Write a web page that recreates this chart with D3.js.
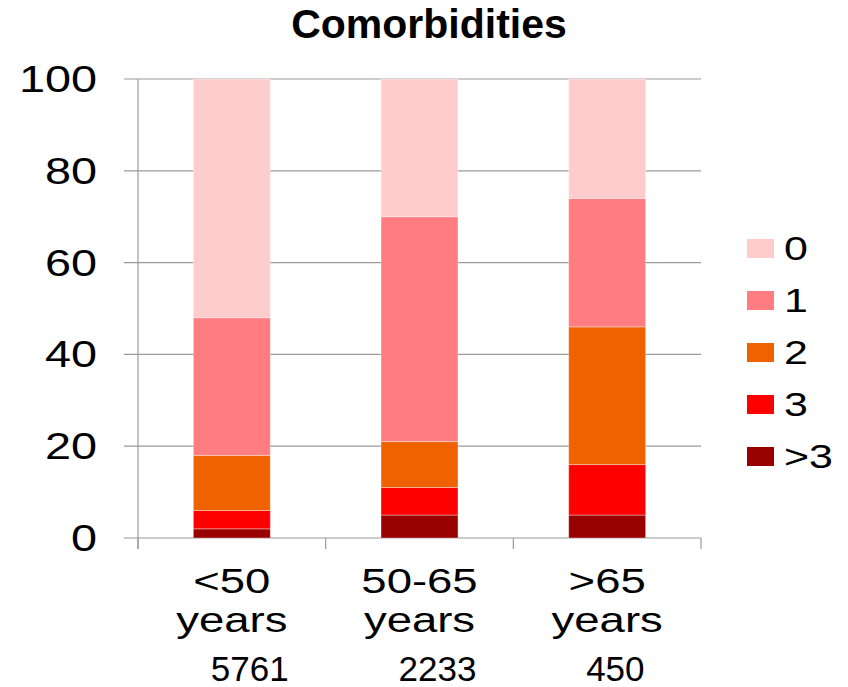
<!DOCTYPE html>
<html>
<head>
<meta charset="utf-8">
<script src="https://cdn.jsdelivr.net/npm/d3@7"></script>
<style>
  html, body { margin: 0; padding: 0; background: #fff; }
  svg text { font-family: "Liberation Sans", Arial, Helvetica, sans-serif; fill: #000; }
</style>
</head>
<body>
<svg id="chart" width="848" height="687"></svg>
<script>
// Age groups, their sizes, and share (%) of patients by number of comorbidities
const groupLabels = ["<50", "50-65", ">65"];
const groupUnits = ["years", "years", "years"];
const groupCounts = ["5761", "2233", "450"];

const seriesKeys = ["0", "1", "2", "3", ">3"];
const values0 = [52, 30, 26];
const values1 = [30, 49, 28];
const values2 = [12, 10, 30];
const values3 = [4, 6, 11];
const valuesOver3 = [2, 5, 5];
const seriesColors = ["#FFCCCC", "#FF7C80", "#EE6200", "#FF0000", "#990000"];

const yTicks = [0, 20, 40, 60, 80, 100];

const rows = groupLabels.map((g, i) => ({
  group: g,
  "0": values0[i],
  "1": values1[i],
  "2": values2[i],
  "3": values3[i],
  ">3": valuesOver3[i]
}));

const svg = d3.select("#chart");
const plot = { left: 138, right: 701, top: 79, bottom: 538 };
const wide = 1.3; // horizontally widened lettering for axis and legend text

const x = d3.scaleBand().domain(groupLabels).range([plot.left, plot.right]).paddingInner(0.59).paddingOuter(0.295);
const y = d3.scaleLinear().domain([0, 100]).range([plot.bottom, plot.top]);
const color = d3.scaleOrdinal().domain(seriesKeys).range(seriesColors);

// Title
svg.append("text")
  .attr("x", 429).attr("y", 38)
  .attr("text-anchor", "middle")
  .style("font-size", "41px").style("font-weight", "bold")
  .text("Comorbidities");

// Horizontal gridlines with left tick marks
svg.append("g").selectAll("line").data(yTicks).join("line")
  .attr("x1", plot.left - 14).attr("x2", plot.right)
  .attr("y1", d => y(d)).attr("y2", d => y(d))
  .attr("stroke", "#9a9a9a").attr("stroke-width", 1.2);

// Y axis line
svg.append("line")
  .attr("x1", plot.left).attr("x2", plot.left)
  .attr("y1", plot.top).attr("y2", plot.bottom + 11)
  .attr("stroke", "#9a9a9a").attr("stroke-width", 1.2);

// Category separator ticks below the baseline
const sepX = d3.range(groupLabels.length + 1).map(i => plot.left + i * (plot.right - plot.left) / groupLabels.length);
svg.append("g").selectAll("line").data(sepX).join("line")
  .attr("x1", d => d).attr("x2", d => d)
  .attr("y1", plot.bottom).attr("y2", plot.bottom + 11)
  .attr("stroke", "#9a9a9a").attr("stroke-width", 1.2);

// Y tick labels
svg.append("g").selectAll("text").data(yTicks).join("text")
  .attr("transform", d => `translate(97,${y(d) + 13}) scale(${wide},1)`)
  .attr("text-anchor", "end")
  .style("font-size", "36px")
  .text(d => d);

// Stacked bars, bottom-up from ">3" to "0"
const stack = d3.stack().keys(seriesKeys.slice().reverse());
const layers = stack(rows);
svg.append("g").selectAll("g").data(layers).join("g")
  .attr("fill", d => color(d.key))
  .selectAll("rect").data(d => d).join("rect")
    .attr("x", d => x(d.data.group))
    .attr("width", x.bandwidth())
    .attr("y", d => y(d[1]))
    .attr("height", d => y(d[0]) - y(d[1]))
    .attr("stroke", "#fff").attr("stroke-opacity", 0.35).attr("stroke-width", 1);

// Category labels: age range, unit, and group size
const catG = svg.append("g");
groupLabels.forEach((g, i) => {
  const cx = x(g) + x.bandwidth() / 2;
  catG.append("text")
    .attr("transform", `translate(${cx},593) scale(${wide},1)`)
    .attr("text-anchor", "middle").style("font-size", "35px")
    .text(g);
  catG.append("text")
    .attr("transform", `translate(${cx},632) scale(${wide},1)`)
    .attr("text-anchor", "middle").style("font-size", "35px")
    .text(groupUnits[i]);
  catG.append("text")
    .attr("x", cx - 21).attr("y", 681)
    .attr("text-anchor", "start").style("font-size", "35px")
    .text(groupCounts[i]);
});

// Legend
const legend = svg.append("g").selectAll("g").data(seriesKeys).join("g")
  .attr("transform", (d, i) => `translate(747,${239 + i * 52})`);
legend.append("rect")
  .attr("width", 27).attr("height", 19)
  .attr("fill", d => color(d));
legend.append("text")
  .attr("transform", `translate(37,21) scale(${wide},1)`)
  .style("font-size", "33px")
  .text(d => d);
</script>
</body>
</html>
